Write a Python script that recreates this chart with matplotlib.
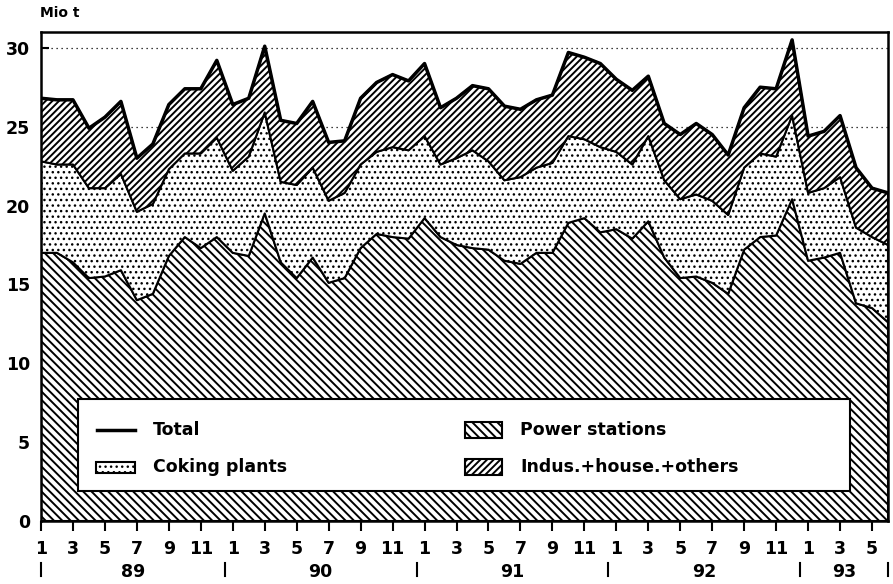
import numpy as np
import matplotlib
matplotlib.use("Agg")
import matplotlib.pyplot as plt
from matplotlib.patches import Rectangle
from matplotlib.lines import Line2D

plt.rcParams["font.family"] = "DejaVu Sans"
plt.rcParams["font.weight"] = "bold"
plt.rcParams["hatch.color"] = "black"
plt.rcParams["hatch.linewidth"] = 1.4

# monthly values Jan 1989 - Jun 1993, Mio t
total = [26.8, 26.7, 26.7, 24.9, 25.6, 26.6, 23.0, 23.9, 26.4, 27.4, 27.4, 29.2,
         26.4, 26.8, 30.1, 25.4, 25.2, 26.6, 24.0, 24.1, 26.8, 27.8, 28.3, 27.9,
         29.0, 26.2, 26.8, 27.6, 27.4, 26.3, 26.1, 26.7, 27.0, 29.7, 29.4, 29.0,
         28.0, 27.3, 28.2, 25.2, 24.5, 25.2, 24.5, 23.2, 26.2, 27.5, 27.4, 30.5,
         24.4, 24.7, 25.7, 22.4, 21.1, 20.8]
power_coking = [22.8, 22.6, 22.6, 21.1, 21.1, 22.0, 19.6, 20.1, 22.3, 23.3, 23.3, 24.3,
                22.2, 23.1, 25.9, 21.5, 21.3, 22.4, 20.3, 20.8, 22.6, 23.4, 23.7, 23.5,
                24.4, 22.6, 23.0, 23.5, 22.8, 21.6, 21.8, 22.4, 22.7, 24.4, 24.2, 23.7,
                23.4, 22.6, 24.4, 21.6, 20.4, 20.7, 20.3, 19.4, 22.4, 23.3, 23.1, 25.7,
                20.8, 21.1, 21.8, 18.6, 18.0, 17.5]
power = [17.0, 17.0, 16.4, 15.4, 15.5, 15.9, 14.0, 14.4, 16.8, 18.0, 17.3, 18.0,
         17.0, 16.8, 19.5, 16.4, 15.4, 16.7, 15.1, 15.4, 17.3, 18.2, 18.0, 17.9,
         19.2, 18.0, 17.5, 17.3, 17.2, 16.5, 16.3, 17.0, 17.0, 18.9, 19.2, 18.3,
         18.5, 17.9, 19.0, 16.7, 15.4, 15.5, 15.1, 14.4, 17.2, 18.0, 18.1, 20.4,
         16.5, 16.7, 17.0, 13.8, 13.5, 12.6]
month_labels = ["1", "3", "5", "7", "9", "11"] * 4 + ["1", "3", "5"]
years = ["89", "90", "91", "92", "93"]

hatch_power = "\\" * 4
hatch_coking = "..."
hatch_other = "/" * 5


def hatch_lw(artist, lw):
    # per-artist hatch width where matplotlib supports it
    if hasattr(artist, "set_hatch_linewidth"):
        artist.set_hatch_linewidth(lw)


x = np.arange(len(total))

fig = plt.figure(figsize=(8.93, 5.84), dpi=100)
ax = fig.add_axes([41 / 893, 63 / 584, 847 / 893, 489 / 584])

ax.set_xlim(0, 53)
ax.set_ylim(0, 31)

ax.set_yticks([0, 5, 10, 15, 20, 25, 30])
ax.yaxis.grid(True, linestyle=(0, (1, 3)), color="black", linewidth=0.9, zorder=0)
ax.set_axisbelow(True)

p1 = ax.fill_between(x, 0, power, facecolor="white", edgecolor="black", hatch=hatch_power,
                     linewidth=1.5, zorder=2)
p2 = ax.fill_between(x, power, power_coking, facecolor="white", edgecolor="black",
                     hatch=hatch_coking, linewidth=1.5, zorder=2)
p3 = ax.fill_between(x, power_coking, total, facecolor="white", edgecolor="black",
                     hatch=hatch_other, linewidth=1.5, zorder=2)
hatch_lw(p2, 1.0)
ax.plot(x, total, color="black", linewidth=2.5, zorder=3)

for s in ax.spines.values():
    s.set_linewidth(1.8)
    s.set_zorder(4)

ax.set_xticks(x[::2])
ax.set_xticklabels(month_labels)
ax.set_xticks(x[1::2], minor=True)
ax.tick_params(axis="x", which="major", direction="out", length=7, width=1.5, pad=7,
               labelsize=12.5)
ax.tick_params(axis="x", which="minor", direction="in", length=4, width=1.2)
ax.tick_params(axis="y", direction="in", length=6, width=1.5, pad=8, labelsize=12.5)

# year row
seps = [0, 11.5, 23.5, 35.5, 47.5, 53]
trans = ax.get_xaxis_transform()
for s in seps:
    ax.plot([s, s], [-0.086, -0.113], color="black", linewidth=1.5, transform=trans,
            clip_on=False)
for i, yr in enumerate(years):
    ax.text((seps[i] + seps[i + 1]) / 2, -0.104, yr, transform=trans, ha="center",
            va="center", fontsize=12.5, fontweight="bold")

fig.text(40 / 893, 1 - 13 / 584, "Mio t", fontsize=10, fontweight="bold", va="center")

# legend box
T = ax.transAxes
ax.add_patch(Rectangle((0.0437, 0.0613), 0.9113, 0.1882, transform=T, facecolor="white",
                       edgecolor="black", linewidth=1.5, zorder=5))
ax.add_line(Line2D([0.0661, 0.111], [0.186, 0.186], transform=T, color="black",
                   linewidth=2.5, zorder=6))
r = ax.add_patch(Rectangle((0.065, 0.099), 0.046, 0.0225, transform=T, facecolor="white",
                           edgecolor="black", hatch=hatch_coking, linewidth=1.5, zorder=6))
hatch_lw(r, 1.0)
ax.add_patch(Rectangle((0.5006, 0.170), 0.044, 0.033, transform=T, facecolor="white",
                       edgecolor="black", hatch=hatch_power, linewidth=1.5, zorder=6))
ax.add_patch(Rectangle((0.5006, 0.094), 0.044, 0.033, transform=T, facecolor="white",
                       edgecolor="black", hatch=hatch_other, linewidth=1.5, zorder=6))
for tx, ty, lab in [(0.132, 0.186, "Total"), (0.132, 0.110, "Coking plants"),
                    (0.5655, 0.186, "Power stations"),
                    (0.5655, 0.110, "Indus.+house.+others")]:
    ax.text(tx, ty, lab, transform=T, fontsize=12.5, fontweight="bold", va="center",
            zorder=7)

fig.savefig("out.png", dpi=100)
